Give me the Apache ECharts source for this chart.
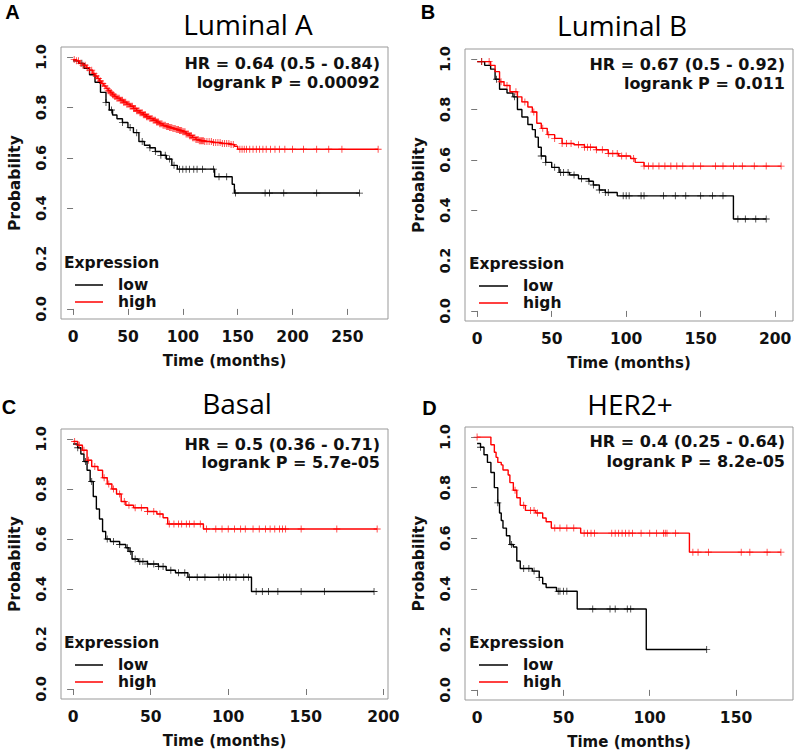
<!DOCTYPE html>
<html>
<head>
<meta charset="utf-8">
<script src="https://cdn.jsdelivr.net/npm/echarts@6/dist/echarts.min.js"></script>
<style>
html,body{margin:0;padding:0;background:#fff;}
#chart{width:796px;height:756px;}
</style>
</head>
<body>
<div id="chart"></div>
<script>
// ---------- DATA ----------
const yTickValues = [0, 0.2, 0.4, 0.6, 0.8, 1.0];
const yTickLabels = ['0.0', '0.2', '0.4', '0.6', '0.8', '1.0'];
const xTicksA = [0, 50, 100, 150, 200, 250];
const xTicksB = [0, 50, 100, 150, 200];
const xTicksC = [0, 50, 100, 150, 200];
const xTicksD = [0, 50, 100, 150];

const panelTitles = ['Luminal A', 'Luminal B', 'Basal', 'HER2+'];
const panelLetters = ['A', 'B', 'C', 'D'];
const hrTexts = ['HR = 0.64 (0.5 - 0.84)', 'HR = 0.67 (0.5 - 0.92)', 'HR = 0.5 (0.36 - 0.71)', 'HR = 0.4 (0.25 - 0.64)'];
const pTexts = ['logrank P = 0.00092', 'logrank P = 0.011', 'logrank P = 5.7e-05', 'logrank P = 8.2e-05'];
const groupNames = ['low', 'high'];

// Luminal A
const lumA_low_t = [0, 5, 10, 15, 20, 25, 30, 33, 36, 40, 45, 50, 55, 60, 65, 70, 75, 80, 85, 90, 95, 129, 145, 147, 261];
const lumA_low_s = [0.985, 0.975, 0.955, 0.93, 0.90, 0.86, 0.82, 0.79, 0.77, 0.755, 0.74, 0.72, 0.70, 0.665, 0.65, 0.64, 0.625, 0.61, 0.595, 0.57, 0.555, 0.525, 0.495, 0.46, 0.46];
const lumA_low_cens = [8, 30, 35, 45, 52, 58, 63, 70, 75, 80, 84, 88, 92, 97, 100, 103, 106, 110, 113, 118, 128, 133, 140, 148, 175, 179, 192, 222, 261];
const lumA_high_t = [0, 3, 6, 9, 12, 15, 18, 20, 22, 24, 26, 28, 30, 32, 34, 36, 38, 40, 43, 46, 49, 52, 55, 58, 61, 64, 67, 70, 73, 76, 79, 82, 85, 88, 91, 94, 97, 100, 103, 106, 109, 112, 115, 120, 127, 135, 143, 147, 150, 278];
const lumA_high_s = [0.99, 0.985, 0.975, 0.968, 0.958, 0.948, 0.935, 0.925, 0.915, 0.905, 0.895, 0.885, 0.875, 0.866, 0.858, 0.85, 0.843, 0.837, 0.829, 0.821, 0.813, 0.805, 0.796, 0.787, 0.779, 0.771, 0.763, 0.756, 0.749, 0.742, 0.735, 0.729, 0.724, 0.72, 0.716, 0.712, 0.708, 0.703, 0.695, 0.688, 0.68, 0.673, 0.668, 0.665, 0.661, 0.657, 0.653, 0.646, 0.634, 0.634];
const lumA_high_cens = [1, 3, 5, 7, 9, 11, 13, 15, 17, 19, 21, 23, 25, 27, 29, 31, 32, 33, 34, 35, 36, 37, 38, 39, 40, 41, 42, 43, 44, 45, 46, 47, 48, 49, 50, 51, 52, 53, 54, 55, 56, 57, 58, 59, 60, 61, 62, 63, 64, 65, 66, 67, 68, 69, 70, 71, 72, 73, 74, 75, 76, 77, 78, 79, 80, 81, 82, 83, 84, 85, 86, 87, 88, 89, 90, 91, 92, 93, 94, 95, 96, 97, 98, 99, 100, 101, 102, 103, 104, 105, 106, 107, 108, 109, 110, 111, 112, 113, 114, 115, 116, 117, 118, 119, 120, 122, 124, 126, 128, 130, 132, 134, 136, 138, 140, 142, 144, 146, 152, 154, 156, 158, 161, 164, 167, 170, 173, 176, 180, 184, 188, 193, 200, 210, 222, 233, 245, 278];

// Luminal B
const lumB_low_t = [0, 5, 9, 12, 15, 20, 24, 27, 30, 34, 37, 39, 41, 43, 46, 50, 55, 62, 68, 75, 78, 82, 86, 94, 172, 194];
const lumB_low_s = [0.99, 0.975, 0.96, 0.92, 0.88, 0.865, 0.85, 0.80, 0.77, 0.74, 0.72, 0.69, 0.65, 0.615, 0.59, 0.57, 0.55, 0.54, 0.525, 0.515, 0.50, 0.48, 0.47, 0.457, 0.365, 0.365];
const lumB_low_cens = [3, 13, 25, 43, 46, 52, 56, 58, 61, 65, 70, 75, 78, 82, 86, 88, 98, 100, 102, 110, 112, 125, 133, 140, 150, 158, 165, 175, 180, 187, 194];
const lumB_high_t = [0, 9, 12, 15, 18, 22, 27, 30, 34, 37, 40, 43, 47, 52, 57, 65, 72, 80, 88, 95, 103, 106, 112, 204];
const lumB_high_s = [0.99, 0.975, 0.95, 0.91, 0.895, 0.87, 0.85, 0.83, 0.81, 0.79, 0.745, 0.725, 0.70, 0.685, 0.665, 0.66, 0.65, 0.64, 0.625, 0.615, 0.605, 0.59, 0.575, 0.575];
const lumB_high_cens = [3, 8, 16, 20, 26, 32, 38, 44, 48, 52, 57, 60, 63, 68, 72, 74, 76, 80, 84, 88, 91, 94, 97, 100, 105, 112, 115, 118, 122, 126, 130, 134, 138, 145, 150, 160, 165, 172, 178, 186, 194, 204];

// Basal
const basal_low_t = [0, 3, 5, 7, 9, 11, 13, 15, 17, 19, 21, 24, 30, 34, 36, 38, 42, 48, 55, 60, 66, 74, 115, 194];
const basal_low_s = [0.98, 0.965, 0.94, 0.91, 0.875, 0.83, 0.77, 0.72, 0.68, 0.63, 0.60, 0.59, 0.578, 0.565, 0.55, 0.52, 0.51, 0.50, 0.49, 0.475, 0.465, 0.447, 0.39, 0.39];
const basal_low_cens = [3, 8, 12, 22, 26, 30, 35, 37, 40, 43, 45, 48, 52, 55, 58, 63, 68, 72, 75, 80, 85, 94, 97, 99, 101, 105, 110, 113, 118, 122, 126, 132, 147, 162, 194];
const basal_high_t = [0, 3, 6, 9, 12, 16, 19, 22, 25, 28, 31, 34, 39, 48, 54, 58, 61, 84, 196];
const basal_high_s = [0.99, 0.975, 0.955, 0.915, 0.89, 0.875, 0.845, 0.82, 0.80, 0.78, 0.75, 0.735, 0.725, 0.71, 0.70, 0.685, 0.66, 0.64, 0.64];
const basal_high_cens = [1, 4, 7, 10, 14, 20, 23, 26, 30, 33, 36, 40, 44, 48, 52, 56, 62, 65, 68, 70, 73, 75, 78, 82, 86, 92, 96, 100, 104, 108, 111, 116, 120, 124, 127, 130, 133, 135, 137, 147, 170, 196];

// HER2+
const her2_low_t = [0, 2, 4, 6, 8, 10, 12, 13, 14, 15, 17, 19, 21, 23, 25, 32, 36, 38, 40, 46, 58, 98, 133];
const her2_low_s = [0.975, 0.96, 0.93, 0.90, 0.86, 0.80, 0.74, 0.70, 0.67, 0.64, 0.61, 0.575, 0.565, 0.51, 0.48, 0.47, 0.445, 0.42, 0.405, 0.39, 0.32, 0.16, 0.16];
const her2_low_cens = [2, 12, 20, 27, 30, 33, 36, 47, 48, 50, 52, 67, 77, 80, 87, 89, 133];
const her2_high_t = [0, 8, 10, 11, 12, 14, 15, 18, 19, 21, 23, 25, 28, 34, 38, 40, 43, 60, 123, 176];
const her2_high_s = [1.0, 0.97, 0.94, 0.92, 0.90, 0.89, 0.87, 0.85, 0.82, 0.79, 0.76, 0.73, 0.71, 0.70, 0.68, 0.665, 0.64, 0.62, 0.545, 0.545];
const her2_high_cens = [0, 22, 27, 31, 33, 35, 45, 48, 52, 56, 62, 64, 66, 68, 78, 80, 82, 84, 86, 88, 90, 95, 100, 104, 108, 109, 110, 115, 125, 128, 134, 153, 158, 168, 176];

// ---------- LAYOUT ----------
const FONT = 'DejaVu Sans';
const COL = {low: '#000000', high: '#ff0000'};
const panels = [
  {grid: {left: 61, top: 47, width: 327, height: 272}, xMin: -11, xMax: 287, xTicks: xTicksA,
   low: [lumA_low_t, lumA_low_s, lumA_low_cens], high: [lumA_high_t, lumA_high_s, lumA_high_cens],
   letter: [12.5, 12], title: [248, 24], hr: [380, 63, 82], prob: 15,
   leg: {ex: [64, 263], lx: [75, 103], ly: [285, 302], tx: 118}},
  {grid: {left: 465, top: 49, width: 328, height: 272}, xMin: -8.2, xMax: 212, xTicks: xTicksB,
   low: [lumB_low_t, lumB_low_s, lumB_low_cens], high: [lumB_high_t, lumB_high_s, lumB_high_cens],
   letter: [428, 12], title: [622, 25], hr: [785, 64, 83], prob: 419,
   leg: {ex: [469, 264], lx: [479, 508], ly: [286, 303], tx: 523}},
  {grid: {left: 61, top: 429, width: 327, height: 270}, xMin: -7.8, xMax: 203, xTicks: xTicksC,
   low: [basal_low_t, basal_low_s, basal_low_cens], high: [basal_high_t, basal_high_s, basal_high_cens],
   letter: [9, 406.5], title: [237, 403], hr: [380, 444, 462], prob: 15,
   leg: {ex: [64, 643], lx: [75, 103], ly: [665, 682], tx: 118}},
  {grid: {left: 465, top: 427, width: 328, height: 273}, xMin: -7, xMax: 183, xTicks: xTicksD,
   low: [her2_low_t, her2_low_s, her2_low_cens], high: [her2_high_t, her2_high_s, her2_high_cens],
   letter: [429.5, 408], title: [630, 404], hr: [785, 441, 461], prob: 419,
   leg: {ex: [469, 643], lx: [479, 508], ly: [665, 682], tx: 523}}
];

function survAt(ts, ss, c) {
  let s = ss[0];
  for (let i = 0; i < ts.length; i++) { if (ts[i] <= c) s = ss[i]; }
  return s;
}
const PLUS = 'path://M-1,-0.12H1V0.12H-1Z M-0.12,-1H0.12V1H-0.12Z';

const grids = [], xAxes = [], yAxes = [], series = [], graphics = [];
panels.forEach((p, i) => {
  grids.push(Object.assign({show: true, borderColor: '#999', borderWidth: 1, backgroundColor: '#fff'}, p.grid));
  xAxes.push({
    type: 'value', gridIndex: i, min: p.xMin, max: p.xMax,
    axisLine: {show: false}, splitLine: {show: false},
    axisTick: {show: true, length: 6, customValues: p.xTicks, lineStyle: {color: '#777'}},
    axisLabel: {customValues: p.xTicks, fontSize: 15.5, fontWeight: 'bold', fontFamily: FONT, color: '#111', margin: 10},
    name: 'Time (months)', nameLocation: 'middle', nameGap: 34,
    nameTextStyle: {fontSize: 15, fontWeight: 'bold', fontFamily: FONT, color: '#111'}
  });
  yAxes.push({
    type: 'value', gridIndex: i, min: -0.04, max: 1.04,
    axisLine: {show: false}, splitLine: {show: false},
    axisTick: {show: true, length: 6, customValues: yTickValues, lineStyle: {color: '#777'}},
    axisLabel: {customValues: yTickValues, rotate: 90, fontSize: 14.5, fontWeight: 'bold', fontFamily: FONT, color: '#111', margin: 13,
      formatter: v => yTickLabels[yTickValues.findIndex(y => Math.abs(y - v) < 1e-6)]}
  });
  groupNames.forEach(g => {
    const [ts, ss, cs] = p[g];
    series.push({
      type: 'line', name: g, xAxisIndex: i, yAxisIndex: i, step: 'end', symbol: 'none',
      lineStyle: {color: COL[g], width: 1.4}, z: 3, silent: true,
      data: ts.map((t, k) => [t, ss[k]])
    });
    series.push({
      type: 'scatter', name: g + ' (censored)', xAxisIndex: i, yAxisIndex: i, symbol: PLUS, symbolSize: 7,
      itemStyle: {color: COL[g]}, z: 4, silent: true,
      data: cs.map(c => [c, survAt(ts, ss, c)])
    });
  });
  const txt = {fontWeight: 'bold', fontFamily: FONT, fill: '#111'};
  graphics.push({type: 'text', x: p.prob, y: p.grid.top + p.grid.height / 2, rotation: Math.PI / 2,
    style: Object.assign({text: 'Probability', x: 0, y: 0, align: 'center', verticalAlign: 'middle', fontSize: 15.5}, txt)});
  graphics.push({type: 'text', style: {text: panelLetters[i], x: p.letter[0], y: p.letter[1], align: 'center', verticalAlign: 'middle',
    fontSize: 20, fontWeight: 'bold', fontFamily: 'Liberation Sans', fill: '#000'}});
  graphics.push({type: 'text', style: {text: panelTitles[i], x: p.title[0], y: p.title[1], align: 'center', verticalAlign: 'middle',
    fontSize: 28, fontFamily: 'Open Sans', fill: '#000'}});
  graphics.push({type: 'text', z: 10, style: Object.assign({text: hrTexts[i], x: p.hr[0], y: p.hr[1], align: 'right', verticalAlign: 'middle', fontSize: 16}, txt)});
  graphics.push({type: 'text', z: 10, style: Object.assign({text: pTexts[i], x: p.hr[0], y: p.hr[2], align: 'right', verticalAlign: 'middle', fontSize: 16}, txt)});
  graphics.push({type: 'text', z: 10, style: Object.assign({text: 'Expression', x: p.leg.ex[0], y: p.leg.ex[1], align: 'left', verticalAlign: 'middle', fontSize: 15.5, lineHeight: 16}, txt)});
  groupNames.forEach((g, k) => {
    graphics.push({type: 'line', z: 10, shape: {x1: p.leg.lx[0], y1: p.leg.ly[k], x2: p.leg.lx[1], y2: p.leg.ly[k]},
      style: {stroke: COL[g], lineWidth: 1.5}});
    graphics.push({type: 'text', z: 10, style: Object.assign({text: g, x: p.leg.tx, y: p.leg.ly[k], align: 'left', verticalAlign: 'middle', fontSize: 15.5, lineHeight: 15}, txt)});
  });
});

const chart = echarts.init(document.getElementById('chart'), null, {renderer: 'svg'});
chart.setOption({
  backgroundColor: '#fff',
  animation: false,
  grid: grids, xAxis: xAxes, yAxis: yAxes, series: series, graphic: graphics
});
</script>
</body>
</html>
